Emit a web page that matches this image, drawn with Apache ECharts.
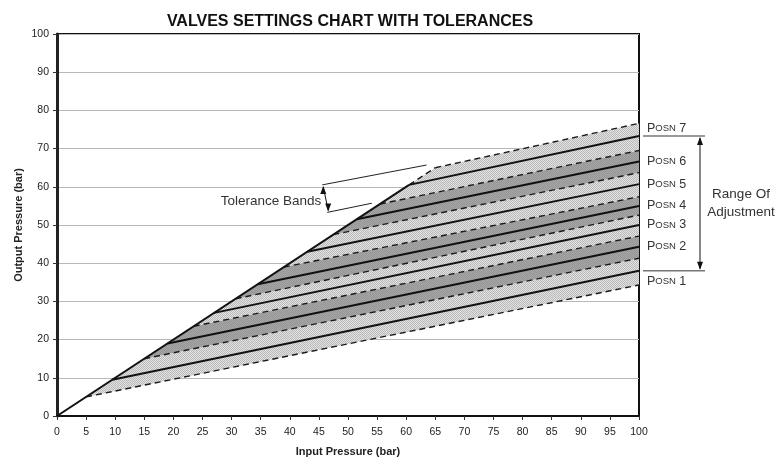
<!DOCTYPE html>
<html>
<head>
<meta charset="utf-8">
<script src="https://cdn.jsdelivr.net/npm/echarts@6/dist/echarts.min.js"></script>
<style>
  html, body { margin: 0; padding: 0; background: #fff; }
  #chart { width: 778px; height: 458px; }
</style>
</head>
<body>
<div id="chart"></div>
<script>
// Valve positions: each setting line leaves the 1:1 line at settingStart (bar)
// and reaches settingEnd output pressure at 100 bar input.
const positions = ['1', '2', '3', '4', '5', '6', '7'];
const settingStart = [9.5, 19, 27, 34.5, 43, 51.5, 60.5];
const settingEnd = [38, 44.3, 50, 55, 60.7, 66.6, 73.3];

// Tolerance band boundaries (dashed): start on the 1:1 line, end at 100 bar input.
const toleranceStart = [5, 15, 23.5, 30.7, 39, 47.5, 55.5, 65];
const toleranceEnd = [34.3, 41.3, 47.1, 52.6, 57.4, 63.7, 69.5, 76.6];

// Callout geometry for the "Tolerance Bands" note (data coordinates)
const calloutTop = [45.75, 60.5];
const calloutBottom = [46.6, 53.3];
const calloutTopTarget = [63.5, 65.7];
const calloutBottomTarget = [54.1, 55.7];

const FONT = '"Liberation Sans", Arial, sans-serif';
const INPUT_MAX = 100;

function makePattern(base, dot) {
  const c = document.createElement('canvas');
  c.width = 2; c.height = 2;
  const g = c.getContext('2d');
  g.fillStyle = base; g.fillRect(0, 0, 2, 2);
  g.fillStyle = dot; g.fillRect(0, 0, 1, 1); g.fillRect(1, 1, 1, 1);
  return c;
}
const lightFill = { image: makePattern('#e2e2e2', '#bababa'), repeat: 'repeat' };
const darkFill = { image: makePattern('#a6a6a6', '#969696'), repeat: 'repeat' };

const chart = echarts.init(document.getElementById('chart'), null, { renderer: 'canvas' });

const series = [];

// shaded tolerance bands, one per position, alternating light / dark
series.push({
  type: 'custom',
  silent: true,
  z: 1,
  data: positions.map((p, i) => [i]),
  renderItem: function (params, api) {
    const i = params.dataIndex;
    const pts = [
      [toleranceStart[i], toleranceStart[i]],
      [INPUT_MAX, toleranceEnd[i]],
      [INPUT_MAX, toleranceEnd[i + 1]],
      [toleranceStart[i + 1], toleranceStart[i + 1]]
    ].map(p => api.coord(p));
    return {
      type: 'polygon',
      shape: { points: pts },
      style: { fill: i % 2 === 0 ? lightFill : darkFill }
    };
  }
});

// dashed tolerance limits
toleranceStart.forEach((s, i) => {
  series.push({
    type: 'line', silent: true, showSymbol: false, z: 3,
    data: [[s, s], [INPUT_MAX, toleranceEnd[i]]],
    lineStyle: { color: '#1a1a1a', width: 1.4, type: [6, 4] }
  });
});

// 1:1 line (solid up to the last setting, dashed to the top limit)
const lastStart = settingStart[settingStart.length - 1];
const topStart = toleranceStart[toleranceStart.length - 1];
series.push({
  type: 'line', silent: true, showSymbol: false, z: 4,
  data: [[0, 0], [lastStart, lastStart]],
  lineStyle: { color: '#111', width: 2 }
});
series.push({
  type: 'line', silent: true, showSymbol: false, z: 3,
  data: [[lastStart, lastStart], [topStart, topStart]],
  lineStyle: { color: '#1a1a1a', width: 1.4, type: [6, 4] }
});

// solid setting lines with their position labels
const labelOffset = [11, 0, 0, -0.5, 0, 0, -7.5];
settingStart.forEach((s, i) => {
  series.push({
    type: 'line', silent: true, showSymbol: false, z: 4,
    data: [[s, s], [INPUT_MAX, settingEnd[i]]],
    lineStyle: { color: '#111', width: 2 },
    endLabel: {
      show: true,
      distance: 8,
      offset: [0, labelOffset[i]],
      formatter: () => '{p|P}{s|OSN} {p|' + positions[i] + '}',
      rich: {
        p: { fontSize: 12.5, fontFamily: FONT, color: '#333' },
        s: { fontSize: 9.5, fontFamily: FONT, color: '#333' }
      }
    }
  });
});

chart.setOption({
  animation: false,
  backgroundColor: '#fff',
  title: {
    text: 'VALVES SETTINGS CHART WITH TOLERANCES',
    left: 345, top: 9, textAlign: 'center',
    textStyle: { fontFamily: FONT, fontSize: 16, fontWeight: 'bold', color: '#111' }
  },
  grid: {
    left: 57, right: 139, top: 34, bottom: 42,
    outerBoundsMode: 'none',
    containLabel: false,
    show: true, borderColor: '#111', borderWidth: 2, backgroundColor: 'transparent'
  },
  xAxis: {
    type: 'value', min: 0, max: 100, interval: 5,
    name: 'Input Pressure (bar)', nameLocation: 'middle', nameGap: 30,
    nameMoveOverlap: false,
    nameTextStyle: { fontFamily: FONT, fontSize: 11, fontWeight: 'bold', color: '#222' },
    axisLine: { show: true, lineStyle: { color: '#111', width: 2 } },
    axisTick: { show: true, length: 4, lineStyle: { color: '#333' } },
    axisLabel: { margin: 11, fontFamily: FONT, fontSize: 10.5, color: '#222' },
    splitLine: { show: false }
  },
  yAxis: {
    type: 'value', min: 0, max: 100, interval: 10,
    name: 'Output Pressure (bar)', nameLocation: 'middle', nameGap: 33,
    nameMoveOverlap: false,
    nameTextStyle: { fontFamily: FONT, fontSize: 11, fontWeight: 'bold', color: '#222' },
    axisLine: { show: true, lineStyle: { color: '#222', width: 3 } },
    axisTick: { show: true, length: 4, lineStyle: { color: '#333' } },
    axisLabel: { margin: 8, fontFamily: FONT, fontSize: 10.5, color: '#222' },
    splitLine: { show: true, lineStyle: { color: '#b8b8b8', width: 1 } }
  },
  series: series
});

// annotations placed from data coordinates
function px(p) { return chart.convertToPixel({ gridIndex: 0 }, p); }

function arrowHead(tip, dir) {
  // dir: +1 pointing down, -1 pointing up
  return {
    type: 'polygon',
    shape: { points: [[tip[0], tip[1]], [tip[0] - 3, tip[1] - dir * 8], [tip[0] + 3, tip[1] - dir * 8]] },
    style: { fill: '#111' }, z: 20
  };
}

const topEnd = px([INPUT_MAX, settingEnd[settingEnd.length - 1]]);
const botEnd = px([INPUT_MAX, settingEnd[0]]);
const rangeX = topEnd[0] + 61;
const rangeMid = (topEnd[1] + botEnd[1]) / 2;

const cTop = px(calloutTop), cBot = px(calloutBottom);
const cTopT = px(calloutTopTarget), cBotT = px(calloutBottomTarget);

const graphics = [
  // range of adjustment
  { type: 'line', shape: { x1: topEnd[0] + 4, y1: topEnd[1], x2: topEnd[0] + 66, y2: topEnd[1] },
    style: { stroke: '#777', lineWidth: 1.5 }, z: 20 },
  { type: 'line', shape: { x1: botEnd[0] + 4, y1: botEnd[1], x2: botEnd[0] + 66, y2: botEnd[1] },
    style: { stroke: '#777', lineWidth: 1.5 }, z: 20 },
  { type: 'line', shape: { x1: rangeX, y1: topEnd[1] + 2, x2: rangeX, y2: botEnd[1] - 2 },
    style: { stroke: '#111', lineWidth: 1 }, z: 20 },
  arrowHead([rangeX, topEnd[1] + 1], -1),
  arrowHead([rangeX, botEnd[1] - 1], 1),
  { type: 'text', x: 741, y: rangeMid - 9,
    style: { text: 'Range Of', font: '13.5px ' + FONT, fill: '#333', align: 'center', verticalAlign: 'middle' }, z: 20 },
  { type: 'text', x: 741, y: rangeMid + 9,
    style: { text: 'Adjustment', font: '13.5px ' + FONT, fill: '#333', align: 'center', verticalAlign: 'middle' }, z: 20 },

  // tolerance bands callout
  { type: 'line', shape: { x1: cTop[0], y1: cTop[1] + 2, x2: cBot[0], y2: cBot[1] - 2 },
    style: { stroke: '#111', lineWidth: 1 }, z: 20 },
  arrowHead([cTop[0], cTop[1] + 1], -1),
  arrowHead([cBot[0], cBot[1] - 1], 1),
  { type: 'line', shape: { x1: cTop[0] - 1, y1: cTop[1], x2: cTopT[0], y2: cTopT[1] },
    style: { stroke: '#222', lineWidth: 1 }, z: 20 },
  { type: 'line', shape: { x1: cBot[0] - 1, y1: cBot[1], x2: cBotT[0], y2: cBotT[1] },
    style: { stroke: '#222', lineWidth: 1 }, z: 20 },
  { type: 'text', x: cTop[0] - 2, y: (cTop[1] + cBot[1]) / 2 + 3,
    style: { text: 'Tolerance Bands', font: '13.5px ' + FONT, fill: '#333', align: 'right', verticalAlign: 'middle' }, z: 20 }
];

chart.setOption({ graphic: graphics });
</script>
</body>
</html>
